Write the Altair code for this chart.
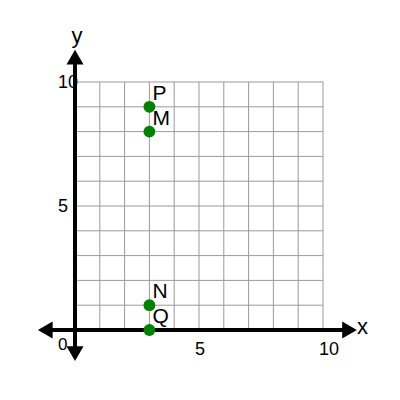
import altair as alt
import pandas as pd

# ---- data ----
grid_values = [0, 1, 2, 3, 4, 5, 6, 7, 8, 9, 10]
grid_min, grid_max = 0, 10

point_labels = ["P", "M", "N", "Q"]
point_x = [3, 3, 3, 3]
point_y = [9, 8, 1, 0]

x_tick_values = [5, 10]
x_tick_labels = ["5", "10"]
y_tick_values = [5, 10]
y_tick_labels = ["5", "10"]
origin_label = "0"

x_axis_ends = [-1.2, 11.07]
y_axis_ends = [-0.95, 11.0]

FONT = "Liberation Sans"

PX = 24.8
xs = alt.Scale(domain=[-(75 - 8) / PX, -(75 - 8) / PX + 370 / PX], nice=False, zero=False)
ys = alt.Scale(domain=[(330 - 8) / PX - 370 / PX, (330 - 8) / PX], nice=False, zero=False)


def X(f, **kw):
    return alt.X(f, type="quantitative", scale=xs, axis=None, **kw)


def Y(f, **kw):
    return alt.Y(f, type="quantitative", scale=ys, axis=None, **kw)


vgrid = pd.DataFrame({"x": grid_values, "y": grid_min, "y2": grid_max})
hgrid = pd.DataFrame({"y": grid_values, "x": grid_min, "x2": grid_max})

grid_color = "#9a9a9a"
vlines = alt.Chart(vgrid).mark_rule(color=grid_color, strokeWidth=1).encode(
    x=X("x"), y=Y("y"), y2="y2"
)
hlines = alt.Chart(hgrid).mark_rule(color=grid_color, strokeWidth=1).encode(
    y=Y("y"), x=X("x"), x2="x2"
)

xaxis_df = pd.DataFrame({"x": [x_axis_ends[0]], "x2": [x_axis_ends[1]], "y": [0]})
yaxis_df = pd.DataFrame({"y": [y_axis_ends[0]], "y2": [y_axis_ends[1]], "x": [0]})
xaxis = alt.Chart(xaxis_df).mark_rule(color="black", strokeWidth=4).encode(
    x=X("x"), x2="x2", y=Y("y")
)
yaxis = alt.Chart(yaxis_df).mark_rule(color="black", strokeWidth=4).encode(
    y=Y("y"), y2="y2", x=X("x")
)

arrows_df = pd.DataFrame(
    {
        "x": [x_axis_ends[0], x_axis_ends[1], 0, 0],
        "y": [0, 0, y_axis_ends[0], y_axis_ends[1]],
        "shape": ["triangle-left", "triangle-right", "triangle-down", "triangle-up"],
    }
)
arrows = alt.Chart(arrows_df).mark_point(
    filled=True, color="black", size=289, opacity=1, strokeWidth=0
).encode(x=X("x"), y=Y("y"), shape=alt.Shape("shape:N", scale=None))

pts_df = pd.DataFrame({"x": point_x, "y": point_y, "label": point_labels})
points = alt.Chart(pts_df).mark_circle(color="#008000", size=140, opacity=1).encode(
    x=X("x"), y=Y("y")
)
plabels = alt.Chart(pts_df).mark_text(
    align="left", baseline="alphabetic", dx=3, dy=-7, fontSize=21, font=FONT, color="black"
).encode(x=X("x"), y=Y("y"), text="label")

xt_df = pd.DataFrame({"x": x_tick_values, "y": 0, "t": x_tick_labels})
xticks = alt.Chart(xt_df).mark_text(
    align="left", baseline="alphabetic", dx=-4, dy=25, fontSize=18, font=FONT, color="black"
).encode(x=X("x"), y=Y("y"), text="t")

yt_df = pd.DataFrame({"y": y_tick_values, "x": 0, "t": y_tick_labels})
yticks = alt.Chart(yt_df).mark_text(
    align="left", baseline="alphabetic", dx=-17, dy=6, fontSize=18, font=FONT, color="black"
).encode(x=X("x"), y=Y("y"), text="t")

o_df = pd.DataFrame({"x": [0], "y": [0], "t": [origin_label]})
olabel = alt.Chart(o_df).mark_text(
    align="left", baseline="alphabetic", dx=-17, dy=20, fontSize=17, font=FONT, color="black"
).encode(x=X("x"), y=Y("y"), text="t")

xt_title = pd.DataFrame({"x": [10], "y": [0], "t": ["x"]})
yt_title = pd.DataFrame({"x": [0], "y": [10], "t": ["y"]})
xtitle = alt.Chart(xt_title).mark_text(
    align="left", baseline="alphabetic", dx=34, dy=4, fontSize=22, font=FONT, color="black"
).encode(x=X("x"), y=Y("y"), text="t")
ytitle = alt.Chart(yt_title).mark_text(
    align="center", baseline="alphabetic", dx=2, dy=-39, fontSize=22, font=FONT, color="black"
).encode(x=X("x"), y=Y("y"), text="t")

chart = (
    alt.layer(
        vlines, hlines, yticks, olabel, xaxis, yaxis, arrows, points, plabels,
        xticks, xtitle, ytitle,
    )
    .properties(width=370, height=370, padding=0, background="white")
    .configure_view(stroke=None)
)

chart.save("out.html", embed_options={"renderer": "svg", "actions": False})
